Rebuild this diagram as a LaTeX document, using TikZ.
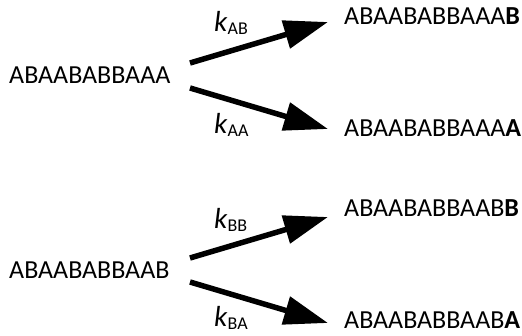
\documentclass[tikz,border=0pt]{standalone}
\usepackage{fontspec}
\setmainfont{Carlito}
\usetikzlibrary{arrows.meta}

\tikzset{
  seq/.style={inner sep=0pt, anchor=base west, font=\fontsize{26}{30}\selectfont},
  rate/.style={inner sep=0pt, anchor=base west, font=\fontsize{29}{32}\selectfont},
  react/.style={line width=5.5pt, -{Triangle[length=44pt,width=28pt]}}
}
\newcommand{\rk}[1]{\textit{k}\raisebox{-3pt}{\fontsize{18}{18}\selectfont #1}}

\begin{document}
\begin{tikzpicture}[x=1pt,y=-1pt]
\useasboundingbox (0,0) rectangle (522,336);

% chain ending in A
\node[seq] (pA)  at (9,84)  {ABAABABBAAA};
\node[seq] (pAB) at (344,25) {ABAABABBAAA\textbf{B}};
\node[seq] (pAA) at (344,137) {ABAABABBAAA\textbf{A}};
\coordinate (tAB) at (190,63);  \coordinate (hAB) at (328,22);
\coordinate (tAA) at (190,88);  \coordinate (hAA) at (328,129);
\draw[react] (tAB) -- (hAB);
\draw[react] (tAA) -- (hAA);
\node[rate] (kAB) at (214,32)  {\rk{AB}};
\node[rate] (kAA) at (214,134) {\rk{AA}};

% chain ending in B
\node[seq] (pB)  at (9,279)  {ABAABABBAAB};
\node[seq] (pBB) at (344,217) {ABAABABBAAB\textbf{B}};
\node[seq] (pBA) at (344,329) {ABAABABBAAB\textbf{A}};
\coordinate (tBB) at (190,258); \coordinate (hBB) at (328,217);
\coordinate (tBA) at (190,282); \coordinate (hBA) at (328,323);
\draw[react] (tBB) -- (hBB);
\draw[react] (tBA) -- (hBA);
\node[rate] (kBB) at (214,229) {\rk{BB}};
\node[rate] (kBA) at (214,327) {\rk{BA}};
\end{tikzpicture}
\end{document}
